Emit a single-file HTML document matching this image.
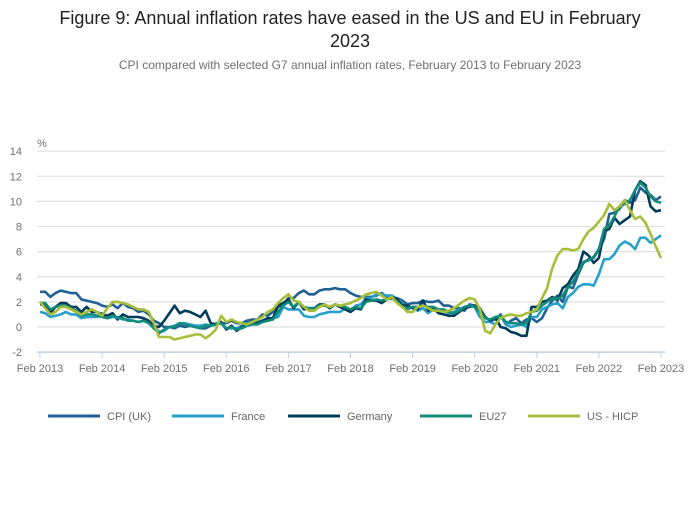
<!DOCTYPE html>
<html><head><meta charset="utf-8"><style>
body{margin:0;background:#fff;font-family:"Liberation Sans",sans-serif;}
svg text{font-family:"Liberation Sans",sans-serif;}
</style></head><body>
<svg id="c" width="700" height="502">
<text x="350" y="24" text-anchor="middle" font-size="18" fill="#222">Figure 9: Annual inflation rates have eased in the US and EU in February</text>
<text x="350" y="47" text-anchor="middle" font-size="18" fill="#222">2023</text>
<text x="350" y="69" text-anchor="middle" font-size="12" fill="#707070">CPI compared with selected G7 annual inflation rates, February 2013 to February 2023</text>
<text x="37" y="147" font-size="11" fill="#707070">%</text>
<g id="grid"></g><g id="series"></g><g id="legend"></g>
</svg>
<script>
const yTicks=[14,12,10,8,6,4,2,0,-2];
const xLabels=["Feb 2013","Feb 2014","Feb 2015","Feb 2016","Feb 2017","Feb 2018","Feb 2019","Feb 2020","Feb 2021","Feb 2022","Feb 2023"];
const seriesNames=["CPI (UK)","France","Germany","EU27","US - HICP"];
const uk=[2.8,2.8,2.4,2.7,2.9,2.8,2.7,2.7,2.2,2.1,2.0, 1.9,1.7,1.6,1.8,1.5,1.9,1.6,1.5,1.2,1.3,1.0,0.5, 0.3,0.0,0.0,-0.1,0.1,0.0,0.1,0.0,-0.1,-0.1,0.1,0.2, 0.3,0.3,0.5,0.3,0.3,0.5,0.6,0.6,1.0,0.9,1.2,1.6, 1.8,2.3,2.3,2.7,2.9,2.6,2.6,2.9,3.0,3.0,3.1,3.0, 3.0,2.7,2.5,2.4,2.4,2.4,2.5,2.7,2.4,2.4,2.3,2.1, 1.8,1.9,1.9,2.1,2.0,2.0,2.1,1.7,1.7,1.5,1.5,1.3, 1.8,1.7,1.5,0.8,0.5,0.6,1.0,0.2,0.5,0.7,0.3,0.6, 0.7,0.4,0.7,1.5,2.1,2.5,2.0,3.2,3.1,4.2,5.1,5.4, 5.5,6.2,7.0,9.0,9.1,9.4,10.1,9.9,10.1,11.1,10.7,10.5, 10.1,10.4];
const france=[1.2,1.1,0.8,0.9,1.0,1.2,1.0,1.0,0.7,0.8,0.8, 0.8,1.1,0.7,0.8,0.8,0.6,0.6,0.5,0.4,0.5,0.4,0.1, -0.4,-0.3,0.0,0.1,0.3,0.3,0.2,0.1,0.1,0.2,0.1,0.3, 0.3,-0.1,-0.1,-0.1,0.1,0.3,0.4,0.4,0.5,0.5,0.7,0.8, 1.6,1.4,1.4,1.4,0.9,0.8,0.8,1.0,1.1,1.2,1.2,1.2, 1.5,1.3,1.7,1.8,2.3,2.3,2.6,2.6,2.5,2.5,2.2,1.9, 1.4,1.6,1.3,1.5,1.1,1.4,1.3,1.3,1.1,1.2,1.4,1.6, 1.7,1.6,0.8,0.4,0.4,0.2,0.9,0.2,0.0,0.1,0.2,0.0, 0.8,0.8,1.4,1.6,1.8,1.9,1.5,2.4,2.7,3.2,3.4,3.4, 3.3,4.2,5.4,5.4,5.8,6.5,6.8,6.6,6.2,7.1,7.1,6.7, 7.0,7.3];
const germany=[1.8,1.8,1.1,1.6,1.9,1.9,1.6,1.6,1.2,1.6,1.2, 1.2,1.0,0.9,1.1,0.6,1.0,0.8,0.8,0.8,0.7,0.5,0.1, 0.0,0.5,1.1,1.7,1.1,1.3,1.2,1.0,0.8,1.3,0.3,0.2, 0.4,-0.2,0.1,-0.3,0.0,0.2,0.4,0.3,0.5,0.7,0.7,1.7, 1.9,2.2,1.5,2.0,1.4,1.5,1.5,1.8,1.8,1.5,1.8,1.6, 1.4,1.2,1.5,1.4,2.2,2.1,2.1,1.9,2.2,2.4,2.2,1.7, 1.7,1.5,1.4,2.1,1.3,1.5,1.1,1.0,0.9,0.9,1.2,1.5, 1.6,1.7,1.3,0.8,0.5,0.8,0.0,-0.1,-0.4,-0.5,-0.7,-0.7, 1.6,1.6,2.0,2.1,2.4,2.1,3.1,3.4,4.1,4.6,6.0,5.7, 5.1,5.5,7.6,7.8,8.7,8.2,8.5,8.8,10.9,11.6,11.3,9.6, 9.2,9.3];
const eu27=[1.9,1.9,1.4,1.6,1.7,1.7,1.5,1.3,0.9,1.0,1.0, 0.9,0.8,0.7,0.9,0.7,0.7,0.5,0.5,0.4,0.5,0.3,-0.1, -0.5,-0.2,0.0,0.0,0.3,0.2,0.1,0.0,-0.1,0.1,0.1,0.2, 0.3,-0.1,0.0,-0.2,-0.1,0.1,0.2,0.2,0.4,0.5,0.6,1.2, 1.7,2.0,1.6,2.0,1.6,1.5,1.5,1.7,1.7,1.6,1.8,1.7, 1.6,1.4,1.6,1.5,2.0,2.1,2.2,2.1,2.2,2.3,2.0,1.6, 1.5,1.6,1.6,1.7,1.6,1.6,1.4,1.4,1.2,1.1,1.3,1.6, 1.7,1.6,1.2,0.7,0.6,0.8,0.9,0.4,0.3,0.3,0.2,0.3, 1.2,1.3,1.7,2.0,2.3,2.2,2.5,3.2,3.6,4.4,5.2,5.3, 5.6,6.2,7.8,8.1,8.8,9.6,9.8,10.1,10.9,11.5,11.1,10.4, 10.0,9.9];
const us=[2.0,1.5,1.0,1.2,1.6,1.6,1.4,1.2,1.0,1.2,1.4, 1.2,0.9,1.5,2.0,2.0,1.9,1.8,1.6,1.4,1.4,1.2,0.3, -0.8,-0.8,-0.8,-1.0,-0.9,-0.8,-0.7,-0.6,-0.6,-0.9,-0.6,-0.2, 0.9,0.4,0.6,0.4,0.3,0.2,0.4,0.6,0.8,1.2,1.4,1.9, 2.3,2.6,2.1,2.0,1.6,1.3,1.3,1.6,1.8,1.6,1.8,1.7, 1.8,1.9,2.1,2.3,2.6,2.7,2.8,2.5,2.2,2.4,1.9,1.6, 1.2,1.2,1.6,1.7,1.5,1.3,1.3,1.2,1.3,1.5,1.8,2.1, 2.3,2.2,1.4,-0.3,-0.5,0.2,0.7,0.9,1.0,0.9,0.9,1.1, 1.2,1.4,2.3,3.1,4.7,5.7,6.2,6.2,6.1,6.2,7.0,7.6, 7.9,8.4,8.9,9.8,9.3,9.6,10.1,9.3,8.6,8.8,8.3,7.4, 6.4,5.5];
const seriesData=[uk,france,germany,eu27,us];
const colors=["#206095","#27a0cc","#003c57","#118c7b","#a8bd3a"];
const NS="http://www.w3.org/2000/svg";
const X0=40,X1=661,Y0=327,PPU=12.56,NM=120;
const xs=i=>X0+(X1-X0)*i/NM;
const ys=v=>Y0-v*PPU;
function mk(t,a,p){const e=document.createElementNS(NS,t);for(const k in a)e.setAttribute(k,a[k]);p.appendChild(e);return e;}
const grid=document.getElementById('grid');
yTicks.forEach(v=>{
  const l=mk('line',{x1:37,x2:665,y1:ys(v),y2:ys(v),stroke:v===-2?'#bfcfe3':'#e0e0e0','stroke-width':v===-2?1.5:1.2},grid);
  
  
  const t=mk('text',{x:22,y:ys(v)+4,'text-anchor':'end','font-size':11,fill:'#707070'},grid);
  t.textContent=v;
  
  
});
xLabels.forEach((s,i)=>{
  const x=xs(i*12);
  const tk=mk('line',{x1:x,x2:x,y1:352,y2:358,stroke:'#bfcfe3','stroke-width':1},grid);
  
  
  const t=mk('text',{x:x,y:372,'text-anchor':'middle','font-size':11,fill:'#707070'},grid);
  t.textContent=s;
  
  
});
const sg=document.getElementById('series');
seriesData.forEach((d,k)=>{
  const p=mk('polyline',{points:d.map((v,i)=>xs(i).toFixed(1)+','+ys(v).toFixed(1)).join(' '),fill:'none',stroke:colors[k],'stroke-width':2.6,'stroke-linejoin':'round'},sg);
  
  
});
const lg=document.getElementById('legend');
const lx=[48,172,288,420,528];
seriesNames.forEach((n,k)=>{
  const g=mk('g',{},lg);
  
  
  mk('line',{x1:lx[k],x2:lx[k]+52,y1:416,y2:416,stroke:colors[k],'stroke-width':3},g);
  const t=mk('text',{x:lx[k]+59,y:420,'font-size':11,fill:'#666'},g);
  t.textContent=n;
  
  
});
</script>
</body></html>
